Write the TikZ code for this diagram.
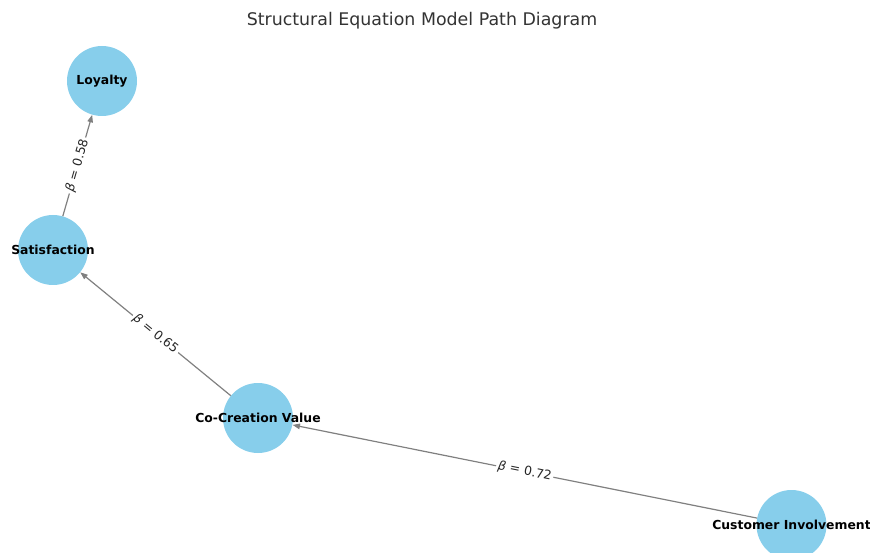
\documentclass[tikz,border=0pt]{standalone}
\usepackage{fontspec}
\setmainfont{DejaVu Sans}
\usetikzlibrary{arrows.meta}
\definecolor{skyblue}{HTML}{87CEEB}
\definecolor{edgegray}{HTML}{808080}
\definecolor{titlegray}{HTML}{333333}
\begin{document}
\begin{tikzpicture}[x=1pt,y=-1pt,
  var/.style={circle, fill=skyblue, draw=none, minimum size=70pt, inner sep=0pt},
  varlabel/.style={font=\bfseries\fontsize{12.4}{14}\selectfont, text=black, inner sep=0pt},
  pathedge/.style={draw=edgegray, line width=1.2pt, -{Triangle[length=7.5pt,width=5.5pt]}},
  coef/.style={fill=white, inner sep=2pt, font=\fontsize{12.5}{14}\selectfont, text=black!85, sloped}
]
\useasboundingbox (0,0) rectangle (870,553);
\clip (0,0) rectangle (870,553);
\node[font=\fontsize{17.4}{20}\selectfont, text=titlegray] (title) at (422,21) {Structural Equation Model Path Diagram};
\node[var] (loy) at (102,81) {};
\node[var] (sat) at (53,250) {};
\node[var] (ccv) at (258,418) {};
\node[var] (ci) at (791.5,525) {};
\draw[pathedge] (sat) -- node[coef] (c1) {{\itshape β} = 0.58} (loy);
\draw[pathedge] (ccv) -- node[coef] (c2) {{\itshape β} = 0.65} (sat);
\draw[pathedge] (ci) -- node[coef] (c3) {{\itshape β} = 0.72} (ccv);
\node[varlabel] (loyt) at (loy) {Loyalty};
\node[varlabel] (satt) at (sat) {Satisfaction};
\node[varlabel] (ccvt) at (ccv) {Co-Creation Value};
\node[varlabel] (cit) at (ci) {Customer Involvement};
\end{tikzpicture}
\end{document}
